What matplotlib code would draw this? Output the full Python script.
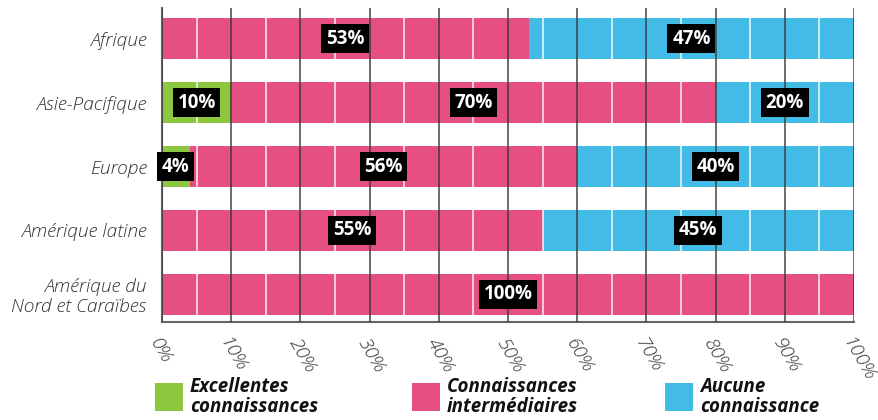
import matplotlib.pyplot as plt
import numpy as np
from matplotlib.patches import Rectangle

plt.rcParams['font.family'] = ['Open Sans', 'DejaVu Sans']

regions = ['Afrique', 'Asie-Pacifique', 'Europe', 'Amérique latine',
           'Amérique du\nNord et Caraïbes']
excellent = [0, 10, 4, 0, 0]
intermediate = [53, 70, 56, 55, 100]
none_ = [47, 20, 40, 45, 0]

series = [excellent, intermediate, none_]
legend_labels = ['Excellentes\nconnaissances', 'Connaissances\nintermédiaires',
                 'Aucune\nconnaissance']
colors = ['#8DC63F', '#E54F84', '#42BBE6']
ticks = np.arange(0, 101, 10)

fig = plt.figure(figsize=(8.79, 4.2), dpi=100)
ax = fig.add_axes([162 / 879, 1 - 322 / 420, 692 / 879, 314 / 420])

y = np.arange(len(regions))
left = np.zeros(len(regions))
for vals, col in zip(series, colors):
    vals = np.array(vals, dtype=float)
    ax.barh(y, vals, left=left, height=0.64, color=col, linewidth=0, zorder=1)
    for yi, (l, v) in enumerate(zip(left, vals)):
        if v > 0:
            ax.text(l + v / 2, yi, f'{int(v)}%', ha='center', va='center',
                    color='white', fontsize=13.5, fontweight='bold', zorder=5,
                    bbox=dict(boxstyle='square,pad=0.25', facecolor='black',
                              edgecolor='none'))
    left += vals

# white separators every 10% (offset by 5), dark grid every 10%
for x in np.arange(5, 100, 10):
    ax.axvline(x, color='white', linewidth=1.2, alpha=0.85, zorder=2)
for x in ticks:
    ax.axvline(x, color='#3a3a3a', linewidth=1.3, alpha=0.8, zorder=3)

ax.set_xlim(0, 100)
ax.set_ylim(4.43, -0.477)
ax.set_yticks(y)
ax.set_yticklabels(regions, fontsize=13.8, style='italic', fontweight='light',
                   color='#333333', linespacing=1.1)
ax.tick_params(axis='y', length=0, pad=11)

ax.set_xticks(ticks)
ax.set_xticklabels([f'{t}%' for t in ticks], rotation=-60, ha='left',
                   va='top', rotation_mode='anchor', fontsize=14,
                   style='italic', fontweight='light', color='#333333')
ax.tick_params(axis='x', length=0, pad=9)

for s in ['top', 'right']:
    ax.spines[s].set_visible(False)
for s in ['left', 'bottom']:
    ax.spines[s].set_color('#666666')
    ax.spines[s].set_linewidth(1.5)

# legend drawn by hand along the bottom
legend_x = [155, 412, 665]
for lx, lab, col in zip(legend_x, legend_labels, colors):
    fig.add_artist(Rectangle((lx / 879, 1 - 411 / 420), 28 / 879, 28 / 420,
                             transform=fig.transFigure, facecolor=col,
                             edgecolor='none'))
    fig.text((lx + 35) / 879, 1 - 397 / 420, lab, ha='left', va='center',
             fontsize=13.5, fontweight='bold', style='italic', color='#111111',
             linespacing=0.95)

fig.savefig('out.png', dpi=100)
